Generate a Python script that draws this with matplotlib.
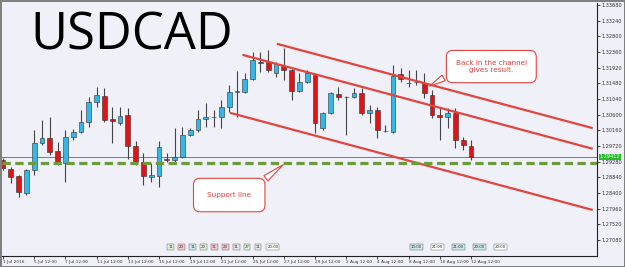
import matplotlib
matplotlib.use('Agg')
import matplotlib.pyplot as plt
import matplotlib.transforms as mtransforms
import numpy as np

# H12 candles, USDCAD, 1 Jul - 12 Aug 2016
opens = [1.2932, 1.2907, 1.2887, 1.2840, 1.2904, 1.2980, 1.2994, 1.2958, 1.2924, 1.2997,
         1.3011, 1.3039, 1.3095, 1.3112, 1.3048, 1.3036, 1.3059, 1.2972, 1.2927, 1.2885,
         1.2887, 1.2935, 1.2932, 1.2941, 1.3003, 1.3017, 1.3048, 1.3053, 1.3053, 1.3081,
         1.3124, 1.3124, 1.3160, 1.3208, 1.3208, 1.3177, 1.3197, 1.3186, 1.3126, 1.3152,
         1.3171, 1.3022, 1.3064, 1.3118, 1.3110, 1.3110, 1.3121, 1.3064, 1.3073, 1.3014,
         1.3011, 1.3174, 1.3149, 1.3152, 1.3149, 1.3115, 1.3059, 1.3053, 1.3064, 1.2989,
         1.2972]
highs = [1.2938, 1.2913, 1.2890, 1.2906, 1.3017, 1.3045, 1.3053, 1.2983, 1.3017, 1.3019,
         1.3073, 1.3110, 1.3138, 1.3135, 1.3081, 1.3081, 1.3079, 1.2986, 1.2952, 1.2924,
         1.2986, 1.2952, 1.3022, 1.3025, 1.3022, 1.3073, 1.3093, 1.3073, 1.3101, 1.3143,
         1.3183, 1.3177, 1.3236, 1.3236, 1.3242, 1.3208, 1.3247, 1.3188, 1.3177, 1.3186,
         1.3177, 1.3067, 1.3124, 1.3138, 1.3112, 1.3135, 1.3135, 1.3087, 1.3081, 1.3031,
         1.3199, 1.3191, 1.3186, 1.3186, 1.3177, 1.3129, 1.3081, 1.3079, 1.3079, 1.2997,
         1.2989]
lows = [1.2904, 1.2868, 1.2828, 1.2834, 1.2890, 1.2975, 1.2946, 1.2918, 1.2871, 1.2989,
        1.3008, 1.3025, 1.3081, 1.3039, 1.2980, 1.3031, 1.2935, 1.2918, 1.2862, 1.2871,
        1.2857, 1.2927, 1.2927, 1.2938, 1.3000, 1.3011, 1.3025, 1.3025, 1.3022, 1.3067,
        1.3053, 1.3121, 1.3157, 1.3180, 1.3180, 1.3166, 1.3157, 1.3101, 1.3124, 1.3149,
        1.3008, 1.3017, 1.3062, 1.3101, 1.3003, 1.3107, 1.3059, 1.3036, 1.2994, 1.3011,
        1.3008, 1.3152, 1.3138, 1.3143, 1.3107, 1.3050, 1.2989, 1.3022, 1.2966, 1.2961,
        1.2932]
closes = [1.2910, 1.2885, 1.2843, 1.2904, 1.2980, 1.2994, 1.2955, 1.2924, 1.2997, 1.3011,
          1.3039, 1.3095, 1.3115, 1.3045, 1.3042, 1.3056, 1.2972, 1.2927, 1.2887, 1.2890,
          1.2969, 1.2932, 1.2941, 1.3003, 1.3017, 1.3048, 1.3053, 1.3052, 1.3081, 1.3124,
          1.3126, 1.3160, 1.3214, 1.3205, 1.3186, 1.3202, 1.3186, 1.3126, 1.3152, 1.3177,
          1.3036, 1.3064, 1.3121, 1.3110, 1.3109, 1.3121, 1.3064, 1.3073, 1.3017, 1.3013,
          1.3169, 1.3160, 1.3148, 1.3151, 1.3121, 1.3059, 1.3053, 1.3064, 1.2989, 1.2975,
          1.2941]

x_labels = ['1 Jul 2016', '5 Jul 12:00', '7 Jul 12:00', '11 Jul 12:00', '13 Jul 12:00',
            '15 Jul 12:00', '19 Jul 12:00', '21 Jul 12:00', '25 Jul 12:00', '27 Jul 12:00',
            '29 Jul 12:00', '2 Aug 12:00', '4 Aug 12:00', '8 Aug 12:00', '10 Aug 12:00',
            '12 Aug 12:00']
y_ticks = [1.27080, 1.27520, 1.27960, 1.28400, 1.28840, 1.29280, 1.29720, 1.30160,
           1.30600, 1.31040, 1.31480, 1.31920, 1.32360, 1.32800, 1.33240, 1.33680]

# channel lines: (bar index, price) end points
upper_line = ([35.1, 75.6], [1.3259, 1.3022])
middle_line = ([30.7, 75.6], [1.3228, 1.2964])
lower_line = ([29.1, 75.6], [1.3065, 1.2792])
support_level = 1.2924
last_price = 1.29412

BLUE = '#33b7e8'
RED = '#e01414'
LINE_RED = '#e2443e'
BG = '#f0f0f8'

fig = plt.figure(figsize=(6.25, 2.67), dpi=100)
fig.patch.set_facecolor(BG)
fig.patch.set_edgecolor('#808080')
fig.patch.set_linewidth(2)
ax = fig.add_axes([2 / 625, 11 / 267, 595 / 625, 253 / 267])
ax.set_facecolor(BG)

o = np.array(opens)
h = np.array(highs)
l = np.array(lows)
c = np.array(closes)
x = np.arange(len(o))

up = c > o
doji = np.abs(c - o) < 0.00015
body_bottom = np.minimum(o, c)
body_h = np.maximum(np.abs(c - o), 0.00006)
colors = np.where(doji, '#4a1c1c', np.where(up, BLUE, RED))

ax.vlines(x, l, h, color='#444444', lw=0.8, zorder=2)
ax.bar(x, body_h, 0.62, bottom=body_bottom, color=colors, edgecolor='#303030',
       linewidth=0.4, zorder=3)

# channel
for xs, ys in (upper_line, middle_line, lower_line):
    ax.plot(xs, ys, color=LINE_RED, lw=1.6, zorder=4, solid_capstyle='butt')

# bid line and support
ax.axhline(last_price, color='#2fae2f', lw=0.7, zorder=1)
ax.axhline(support_level, color='#6d9a3c', lw=2.3, ls=(0, (2.6, 1.4)), zorder=5)

# callouts
ax.annotate('Back in the channel\ngives result.', xy=(54.4, 1.3136), xytext=(62.6, 1.3195),
            fontsize=5.2, color='#d84040', ha='center', va='center', linespacing=1.3,
            bbox=dict(boxstyle='round,pad=1.3,rounding_size=0.9', fc='white', ec=LINE_RED, lw=0.8),
            zorder=6,
            arrowprops=dict(arrowstyle='wedge,tail_width=0.9,shrink_factor=0.5',
                            fc='white', ec=LINE_RED, lw=0.8, relpos=(0.05, 0.35)))
ax.annotate('Support line', xy=(36.2, 1.2924), xytext=(29.0, 1.2834),
            fontsize=5.2, color='#d84040', ha='center', va='center',
            bbox=dict(boxstyle='round,pad=1.9,rounding_size=0.9', fc='white', ec=LINE_RED, lw=0.8),
            zorder=6,
            arrowprops=dict(arrowstyle='wedge,tail_width=0.9,shrink_factor=0.5',
                            fc='white', ec=LINE_RED, lw=0.8, relpos=(0.9, 0.8)))

# axes
ax.set_xlim(-0.13, 76.15)
ax.set_ylim(1.26627, 1.33736)
ax.set_xticks(np.arange(0, 61, 4))
ax.set_xticklabels(x_labels, fontsize=3.1, color='#333333', ha='left')
ax.set_yticks(y_ticks)
ax.set_yticklabels(['%.5f' % v for v in y_ticks], fontsize=3.6, color='#333333')
ax.yaxis.tick_right()
ax.tick_params(axis='both', length=2, width=0.5, pad=1)
for side in ('top', 'left'):
    ax.spines[side].set_visible(False)
for side in ('right', 'bottom'):
    ax.spines[side].set_linewidth(0.8)
    ax.spines[side].set_color('#222222')

trans = mtransforms.blended_transform_factory(ax.transAxes, ax.transData)
ax.text(1.004, last_price, '%.5f' % last_price, transform=trans, fontsize=3.6,
        color='white', va='center', ha='left',
        bbox=dict(boxstyle='square,pad=0.15', fc='#22c022', ec='none'), zorder=7)

# session boxes near the bottom
stamps1 = ['11', '20', '11', '20', '11', '20', '11', '27', '11', '20:00']
fills1 = ['#dff0d8', '#f5c6cb', '#cce8e8', '#dff0d8', '#f5c6cb', '#f5c6cb', '#e6e6e6',
          '#dff0d8', '#e6e6e6', '#ffffff']
xs1 = [21.5, 22.9, 24.3, 25.7, 27.1, 28.5, 29.9, 31.3, 32.7, 34.6]
for xx, s, fc in zip(xs1, stamps1, fills1):
    ax.text(xx, 1.2688, s, fontsize=2.8, color='#333333', ha='center', va='center',
            bbox=dict(boxstyle='square,pad=0.2', fc=fc, ec='#555555', lw=0.3))
stamps2 = ['10:00', '21:00', '21:00', '20:00', '20:00']
fills2 = ['#cce8e8', '#ffffff', '#cce8e8', '#cce8e8', '#ffffff']
xs2 = [53.0, 55.7, 58.4, 61.1, 63.8]
for xx, s, fc in zip(xs2, stamps2, fills2):
    ax.text(xx, 1.2688, s, fontsize=2.8, color='#333333', ha='center', va='center',
            bbox=dict(boxstyle='square,pad=0.2', fc=fc, ec='#555555', lw=0.3))

fig.text(30 / 625, 1 - 50 / 267, 'USDCAD', fontsize=36.5, color='black',
         family='Open Sans', ha='left', va='baseline')

fig.savefig('out.png', dpi=100, facecolor=fig.get_facecolor(), edgecolor=fig.get_edgecolor())
